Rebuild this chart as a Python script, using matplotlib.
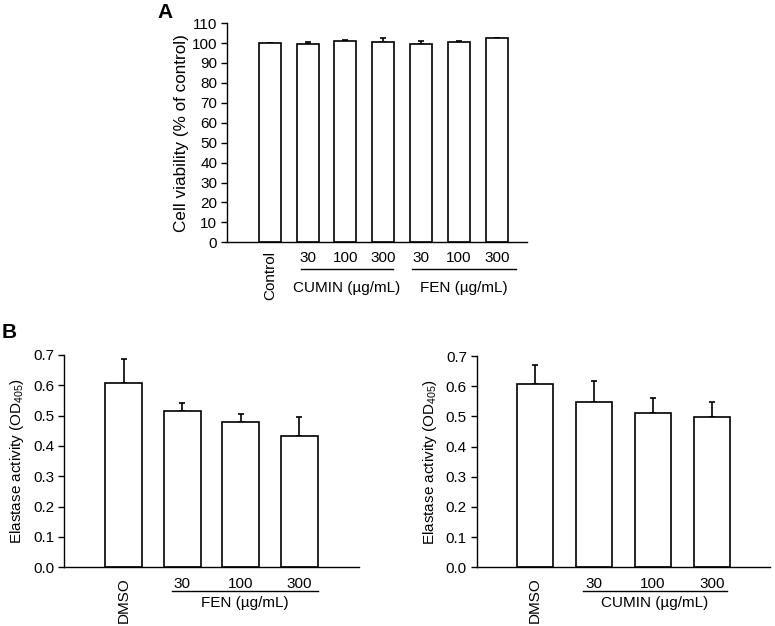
import matplotlib
matplotlib.use("Agg")
import matplotlib.pyplot as plt
import matplotlib.transforms as mtransforms

plt.rcParams['font.family'] = ['Liberation Sans', 'DejaVu Sans']
plt.rcParams['mathtext.default'] = 'regular'
plt.rcParams['font.size'] = 11

# Panel A: cell viability
a_labels = ['Control', '30', '100', '300', '30', '100', '300']
a_values = [100.0, 99.7, 101.0, 100.4, 99.7, 100.7, 102.3]
a_errors = [0.0, 1.0, 0.5, 2.0, 1.3, 0.3, 0.5]

# Panel B: elastase activity
b_labels = ['DMSO', '30', '100', '300']
fen_values = [0.609, 0.514, 0.478, 0.431]
fen_errors = [0.079, 0.029, 0.026, 0.065]
cumin_values = [0.608, 0.547, 0.513, 0.499]
cumin_errors = [0.064, 0.070, 0.048, 0.050]


def style_axes(ax, xpad):
    ax.spines['top'].set_visible(False)
    ax.spines['right'].set_visible(False)
    ax.spines['left'].set_linewidth(1.0)
    ax.spines['bottom'].set_linewidth(1.0)
    ax.tick_params(axis='x', length=0, pad=xpad)
    ax.tick_params(axis='y', direction='out', length=4, width=1.0, pad=3)


def draw_bars(ax, values, errors, width):
    x = list(range(len(values)))
    ax.bar(x, values, width=width, color='white', edgecolor='black', linewidth=1.2, zorder=2)
    ax.errorbar(x, values, yerr=[[0] * len(errors), errors], fmt='none',
                ecolor='black', elinewidth=1.2, capsize=2.5, capthick=1.2, zorder=1)
    return x


def group_line(ax, x0, x1, y_line, y_text, text):
    trans = mtransforms.blended_transform_factory(ax.transData, ax.transAxes)
    ax.plot([x0, x1], [y_line, y_line], color='black', lw=1.0, transform=trans, clip_on=False)
    ax.text((x0 + x1) / 2, y_text, text, ha='center', va='center', transform=trans)


fig = plt.figure(figsize=(7.75, 6.26), dpi=100)

# ---- Panel A ----
axA = fig.add_axes([0.293, 0.613, 0.387, 0.350])
xa = draw_bars(axA, a_values, a_errors, 0.58)
axA.set_xlim(-1.13, 6.8)
axA.set_ylim(0, 110)
axA.set_yticks(range(0, 111, 10))
axA.set_xticks(xa)
axA.set_xticklabels(a_labels)
axA.get_xticklabels()[0].set_rotation(90)
axA.set_ylabel('Cell viability (% of control)', labelpad=2, fontsize=12.3)
style_axes(axA, 6)
group_line(axA, 0.82, 3.26, -0.123, -0.21, 'CUMIN (µg/mL)')
group_line(axA, 3.76, 6.5, -0.123, -0.21, 'FEN (µg/mL)')

# ---- Panel B left (FEN) ----
axB1 = fig.add_axes([0.0826, 0.094, 0.380, 0.339])
xb = draw_bars(axB1, fen_values, fen_errors, 0.63)
axB1.set_xlim(-1.02, 4.01)
axB1.set_ylim(0, 0.7)
axB1.set_yticks([i / 10 for i in range(8)])
axB1.set_yticklabels(['%.1f' % (i / 10) for i in range(8)])
axB1.set_xticks(xb)
axB1.set_xticklabels(b_labels)
axB1.get_xticklabels()[0].set_rotation(90)
axB1.set_ylabel('Elastase activity (OD$_{405}$)', labelpad=5)
style_axes(axB1, 7)
group_line(axB1, 0.83, 3.31, -0.113, -0.17, 'FEN (µg/mL)')

# ---- Panel B right (CUMIN) ----
axB2 = fig.add_axes([0.615, 0.094, 0.379, 0.337])
xc = draw_bars(axB2, cumin_values, cumin_errors, 0.6)
axB2.set_xlim(-0.99, 3.99)
axB2.set_ylim(0, 0.7)
axB2.set_yticks([i / 10 for i in range(8)])
axB2.set_yticklabels(['%.1f' % (i / 10) for i in range(8)])
axB2.set_xticks(xc)
axB2.set_xticklabels(b_labels)
axB2.get_xticklabels()[0].set_rotation(90)
axB2.set_ylabel('Elastase activity (OD$_{405}$)', labelpad=5)
style_axes(axB2, 7)
group_line(axB2, 0.81, 3.26, -0.113, -0.17, 'CUMIN (µg/mL)')

# panel letters
fig.text(165 / 775, 1 - 12 / 626, 'A', fontsize=15, fontweight='bold', ha='center', va='center')
fig.text(9 / 775, 1 - 333 / 626, 'B', fontsize=15, fontweight='bold', ha='center', va='center')

fig.savefig('out.png', dpi=100)
